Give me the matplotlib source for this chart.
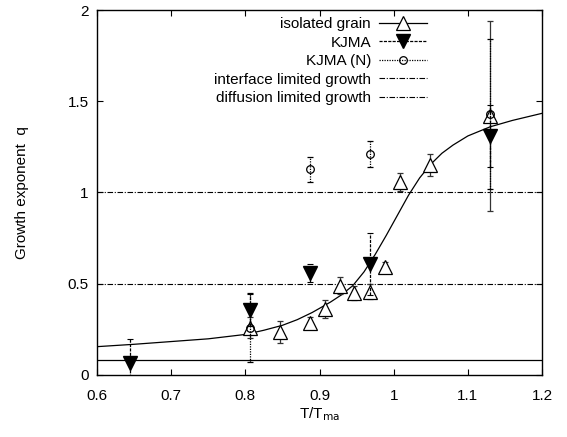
import matplotlib.pyplot as plt
from matplotlib.lines import Line2D

plt.rcParams["font.family"] = ["Liberation Sans", "DejaVu Sans"]
plt.rcParams["font.size"] = 11

# isolated grain (open triangles, solid error bars)
grain_x = [0.806, 0.847, 0.887, 0.907, 0.928, 0.946, 0.968, 0.988, 1.008, 1.049, 1.130]
grain_q = [0.26, 0.237, 0.285, 0.36, 0.49, 0.45, 0.456, 0.59, 1.056, 1.15, 1.42]
grain_err = [0.06, 0.06, 0.035, 0.05, 0.045, 0.04, 0.04, 0.03, 0.05, 0.06, 0.52]

# KJMA (filled down triangles, dashed error bars)
kjma_x = [0.645, 0.806, 0.887, 0.968, 1.130]
kjma_q = [0.068, 0.356, 0.557, 0.61, 1.31]
kjma_err = [0.13, 0.085, 0.05, 0.17, 0.17]

# KJMA (N) (open circles, dotted error bars)
kjman_x = [0.806, 0.887, 0.968, 1.130]
kjman_q = [0.26, 1.127, 1.21, 1.43]
kjman_err = [0.19, 0.07, 0.07, 0.41]

# fitted curve
curve_x = [0.60, 0.65, 0.70, 0.75, 0.80, 0.825, 0.85, 0.87, 0.89, 0.90, 0.915,
           0.93, 0.945, 0.96, 0.975, 0.99, 1.005, 1.02, 1.035, 1.05, 1.065,
           1.08, 1.10, 1.13, 1.16, 1.20]
curve_q = [0.155, 0.168, 0.183, 0.198, 0.222, 0.245, 0.272, 0.303, 0.342, 0.365, 0.40,
           0.44, 0.49, 0.565, 0.66, 0.765, 0.875, 0.985, 1.08, 1.155, 1.215,
           1.26, 1.31, 1.36, 1.395, 1.434]

interface_q = 1.0
diffusion_q = 0.5
baseline_q = 0.08

labels = ["isolated grain", "KJMA", "KJMA (N)",
          "interface limited growth", "diffusion limited growth"]

fig = plt.figure(figsize=(5.67, 4.37), dpi=100)
ax = fig.add_axes([0.171, 0.142, 0.785, 0.835])

dashdot = (0, (5, 1.5, 1, 1.5))
dashed = (0, (2.5, 1))
dotted = (0, (1, 1))

g = ax.errorbar(grain_x, grain_q, yerr=grain_err, fmt="^", mfc="white", mec="black",
                ms=10, mew=0.9, ecolor="#333333", elinewidth=0.9, capsize=2.5,
                capthick=0.9, zorder=4)

k = ax.errorbar(kjma_x, kjma_q, yerr=kjma_err, fmt="v", mfc="black", mec="black",
                ms=10, ecolor="black", elinewidth=0.9, capsize=2, capthick=0.8, zorder=5)
k[2][0].set_linestyle(dashed)

n = ax.errorbar(kjman_x, kjman_q, yerr=kjman_err, fmt="o", mfc="none", mec="black",
                ms=5.5, mew=0.9, ecolor="black", elinewidth=0.9, capsize=2, capthick=0.8,
                zorder=5)
n[2][0].set_linestyle(dotted)

ax.axhline(interface_q, color="black", lw=0.8, ls=dashdot)
ax.axhline(diffusion_q, color="black", lw=0.8, ls=dashdot)
ax.axhline(baseline_q, color="black", lw=0.9)
ax.plot(curve_x, curve_q, color="black", lw=0.9)

ax.set_xlim(0.6, 1.2)
ax.set_ylim(0, 2)
ax.set_xticks([0.6, 0.7, 0.8, 0.9, 1.0, 1.1, 1.2])
ax.set_xticklabels(["0.6", "0.7", "0.8", "0.9", "1", "1.1", "1.2"])
ax.set_yticks([0, 0.5, 1, 1.5, 2])
ax.set_yticklabels(["0", "0.5", "1", "1.5", "2"])
ax.tick_params(direction="in", top=True, right=True, length=4, width=0.8, labelsize=11)
ax.tick_params(axis="x", pad=10)
ax.tick_params(axis="y", pad=6)
for s in ax.spines.values():
    s.set_linewidth(1.0)

ax.set_xlabel("T/T$_{\\mathrm{ma}}$", fontsize=11, labelpad=2)
ax.set_ylabel("Growth exponent  q", fontsize=11, labelpad=28)

handles = [
    Line2D([], [], color="black", lw=0.9, ls="-", marker="^", ms=10, mfc="white", mew=0.9),
    Line2D([], [], color="black", lw=0.9, ls=dashed, marker="v", ms=10, mfc="black"),
    Line2D([], [], color="black", lw=0.9, ls=dotted, marker="o", ms=5.5, mfc="none", mew=0.9),
    Line2D([], [], color="black", lw=0.8, ls=dashdot),
    Line2D([], [], color="black", lw=0.8, ls=dashdot),
]
leg = ax.legend(handles, labels, loc="upper right", bbox_to_anchor=(0.746, 0.985),
                frameon=False, markerfirst=False, handlelength=3.2,
                handletextpad=0.5, labelspacing=0.3, borderpad=0.1, borderaxespad=0.0,
                fontsize=11)

fig.savefig("out.png", dpi=100)
